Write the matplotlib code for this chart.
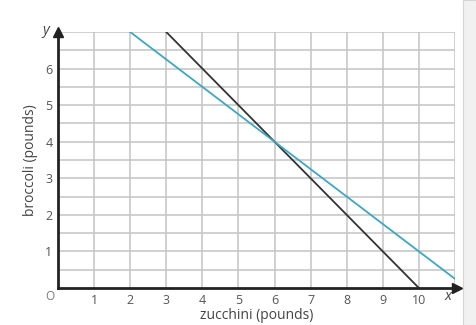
import matplotlib
matplotlib.use('Agg')
import matplotlib.pyplot as plt
from matplotlib.patches import Rectangle
import numpy as np

plt.rcParams['font.family'] = ['Open Sans', 'DejaVu Sans']

# data
black_x = [3, 10]
black_y = [7, 0]
blue_x = [2, 11]
blue_y = [7, 0.25]
x_ticks = [1, 2, 3, 4, 5, 6, 7, 8, 9, 10]
y_ticks = [1, 2, 3, 4, 5, 6]

fig = plt.figure(figsize=(4.77, 3.25), dpi=100)
ax = fig.add_axes([58 / 477, 1 - 288 / 325, (455 - 58) / 477, (288 - 32) / 325])

# grid
for gx in np.arange(1, 12, 1):
    ax.axvline(gx, color='#c4c4c4', lw=1.1, zorder=1)
for gy in np.arange(0.5, 7.5, 0.5):
    ax.axhline(gy, color='#c4c4c4', lw=1.1, zorder=1)

ax.plot(black_x, black_y, color='#333333', lw=1.3, zorder=3)
ax.plot(blue_x, blue_y, color='#3aa9c4', lw=1.3, zorder=3)

ax.set_xlim(0, 11)
ax.set_ylim(0, 7)
for s in ['top', 'right']:
    ax.spines[s].set_visible(False)
for s in ['left', 'bottom']:
    ax.spines[s].set_linewidth(2)
    ax.spines[s].set_color('#222222')
    ax.spines[s].set_zorder(4)

# axis arrows
ax.plot(0, 7, marker='^', color='#222222', markersize=7.5, clip_on=False, zorder=5)
ax.plot(11.05, 0, marker='>', color='#222222', markersize=7.5, clip_on=False, zorder=5)

ax.set_xticks(x_ticks)
ax.set_yticks(y_ticks)
ax.tick_params(length=0, labelsize=9, labelcolor='#555555', pad=4)

ax.text(-0.22, -0.22, 'O', ha='center', va='center', fontsize=8.5, color='#777777')
ax.text(10.8, -0.22, 'x', ha='center', va='center', fontsize=10.5, style='italic', color='#444444')
ax.text(-0.35, 7.05, 'y', ha='center', va='center', fontsize=10.5, style='italic', color='#444444')

ax.set_xlabel('zucchini (pounds)', fontsize=10, color='#444444', labelpad=1)
ax.set_ylabel('broccoli (pounds)', fontsize=10, color='#444444', labelpad=5)

# grey strip on right side of the screenshot
fig.patches.append(Rectangle((463 / 477, 0), 14 / 477, 1, transform=fig.transFigure,
                             facecolor='#f1f1f1', edgecolor='#d5d5d5', lw=0.8, zorder=0))

fig.savefig('out.png', dpi=100)
